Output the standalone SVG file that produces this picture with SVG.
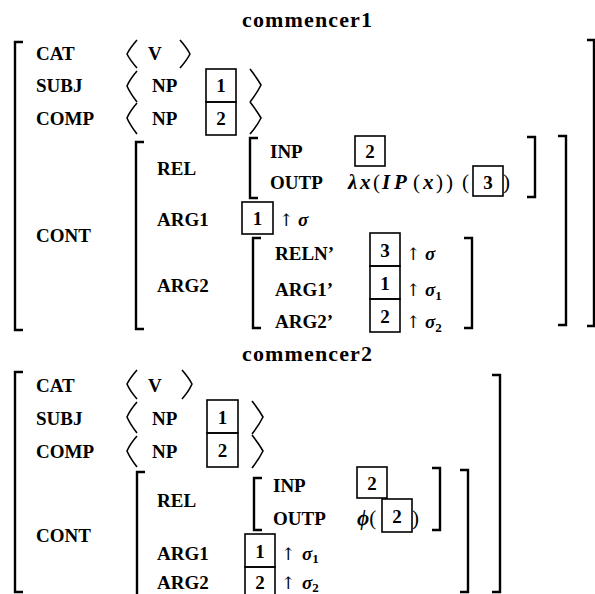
<svg xmlns="http://www.w3.org/2000/svg" width="595" height="594" viewBox="0 0 595 594">
<style>
text{font-family:"Liberation Serif","DejaVu Serif",serif;font-weight:bold;font-size:19px;fill:#000}
.t{font-size:22px}
.i{font-style:italic}
.u{font-style:normal;font-weight:normal}
.s{font-size:13px;font-style:normal}
.ar{font-family:"DejaVu Serif","Liberation Serif",serif;font-weight:normal;font-size:17px}
.d{text-anchor:middle}
.m{font-size:21px}
.br{fill:none;stroke:#000;stroke-width:2.4}
.ab{fill:none;stroke:#000;stroke-width:1.6;stroke-linejoin:round}
.bx{fill:none;stroke:#000;stroke-width:1.6}
</style>
<rect width="595" height="594" fill="#fff"/>
<g id="commencer1">
  <text class="t" x="242" y="27" textLength="130" lengthAdjust="spacing">commencer1</text>
  <g id="c1-brackets">
    <path class="br" d="M23,42 H15 V330 H23"/>
    <path class="br" d="M587,40 H594 V326 H587"/>
    <path class="br" d="M144,142 H136 V329 H144"/>
    <path class="br" d="M558,136 H566 V325 H558"/>
    <path class="br" d="M258,138 H250 V198 H258"/>
    <path class="br" d="M527,137 H535 V197 H527"/>
    <path class="br" d="M261,238 H253 V328 H261"/>
    <path class="br" d="M464,238 H472 V328 H464"/>
  </g>
  <g id="c1-cat">
    <text x="36" y="60">CAT</text>
    <path class="ab" d="M137,40 Q130,48 127,54 Q130,60 137,68"/>
    <text x="148" y="60">V</text>
    <path class="ab" d="M180,40 Q187,48 190,54 Q187,60 180,68"/>
  </g>
  <g id="c1-subj">
    <text x="36" y="92">SUBJ</text>
    <path class="ab" d="M137,71 Q130,79 127,86 Q130,93 137,102"/>
    <text x="152" y="92">NP</text>
    <rect class="bx" x="206" y="69" width="30" height="33"/>
    <text class="d" x="221" y="92">1</text>
    <path class="ab" d="M250,69 Q257,78 261,85 Q257,93 250,102"/>
  </g>
  <g id="c1-comp">
    <text x="36" y="125">COMP</text>
    <path class="ab" d="M137,103 Q130,111 127,118 Q130,125 137,134"/>
    <text x="152" y="125">NP</text>
    <rect class="bx" x="206" y="102" width="30" height="33"/>
    <text class="d" x="221" y="125">2</text>
    <path class="ab" d="M250,102 Q257,111 261,118 Q257,126 250,134"/>
  </g>
  <g id="c1-cont">
    <text x="36" y="242">CONT</text>
    <text x="157" y="175">REL</text>
    <text x="270" y="158">INP</text>
    <rect class="bx" x="355" y="136" width="30" height="30"/>
    <text class="d" x="370" y="158">2</text>
    <text x="270" y="189">OUTP</text>
    <text class="i m" y="189"><tspan x="348">λ</tspan><tspan x="360">x</tspan><tspan class="u" x="373">(</tspan><tspan x="382">I</tspan><tspan x="394">P</tspan><tspan class="u" x="413">(</tspan><tspan x="423">x</tspan><tspan class="u" x="436">)</tspan><tspan class="u" x="446">)</tspan><tspan class="u" x="462">(</tspan></text>
    <rect class="bx" x="473" y="166" width="30" height="30"/>
    <text class="d" x="488" y="189">3</text>
    <text class="m u" x="503" y="189">)</text>
    <text x="157" y="226">ARG1</text>
    <rect class="bx" x="242" y="202" width="31" height="32"/>
    <text class="d" x="257.5" y="225">1</text>
    <text class="ar" x="279" y="226">↑</text>
    <text class="i" x="298" y="226">σ</text>
    <text x="157" y="292">ARG2</text>
    <text x="275" y="260">RELN’</text>
    <rect class="bx" x="370" y="233" width="30" height="33"/>
    <text class="d" x="385" y="257">3</text>
    <text class="ar" x="406" y="260">↑</text>
    <text class="i" x="425" y="260">σ</text>
    <text x="275" y="296">ARG1’</text>
    <rect class="bx" x="370" y="266" width="30" height="33"/>
    <text class="d" x="385" y="290">1</text>
    <text class="ar" x="406" y="296">↑</text>
    <text class="i" x="425" y="296">σ<tspan class="s" dy="4">1</tspan></text>
    <text x="275" y="328">ARG2’</text>
    <rect class="bx" x="370" y="299" width="30" height="33"/>
    <text class="d" x="385" y="323">2</text>
    <text class="ar" x="406" y="328">↑</text>
    <text class="i" x="425" y="328">σ<tspan class="s" dy="4">2</tspan></text>
  </g>
</g>
<g id="commencer2">
  <text class="t" x="242" y="361" textLength="130" lengthAdjust="spacing">commencer2</text>
  <g id="c2-brackets">
    <path class="br" d="M23,372 H15 V592 H23"/>
    <path class="br" d="M492,375 H500 V592 H492"/>
    <path class="br" d="M145,472 H137 V596"/>
    <path class="br" d="M460,470 H468 V592 H460"/>
    <path class="br" d="M262,478 H254 V530 H262"/>
    <path class="br" d="M432,468 H440 V530 H432"/>
  </g>
  <g id="c2-cat">
    <text x="36" y="392">CAT</text>
    <path class="ab" d="M137,370 Q130,378 127,384 Q130,391 137,399"/>
    <text x="148" y="392">V</text>
    <path class="ab" d="M182,370 Q189,378 192,384 Q189,391 182,399"/>
  </g>
  <g id="c2-subj">
    <text x="36" y="425">SUBJ</text>
    <path class="ab" d="M137,402 Q130,410 127,417 Q130,424 137,433"/>
    <text x="152" y="425">NP</text>
    <rect class="bx" x="207" y="400" width="31" height="33"/>
    <text class="d" x="222.5" y="424">1</text>
    <path class="ab" d="M252,401 Q259,410 263,417 Q259,425 252,434"/>
  </g>
  <g id="c2-comp">
    <text x="36" y="458">COMP</text>
    <path class="ab" d="M137,436 Q130,444 127,451 Q130,458 137,467"/>
    <text x="152" y="458">NP</text>
    <rect class="bx" x="207" y="433" width="31" height="34"/>
    <text class="d" x="222.5" y="457">2</text>
    <path class="ab" d="M252,435 Q259,444 263,451 Q259,459 252,468"/>
  </g>
  <g id="c2-cont">
    <text x="36" y="542">CONT</text>
    <text x="157" y="507">REL</text>
    <text x="273" y="492">INP</text>
    <rect class="bx" x="357" y="467" width="30" height="31"/>
    <text class="d" x="372" y="490">2</text>
    <text x="273" y="525">OUTP</text>
    <text class="i m" x="357" y="525">ϕ<tspan class="u">(</tspan></text>
    <rect class="bx" x="382" y="499" width="30" height="33"/>
    <text class="d" x="397" y="523">2</text>
    <text class="m u" x="412" y="525">)</text>
    <text x="157" y="560">ARG1</text>
    <rect class="bx" x="245" y="534" width="30" height="33"/>
    <text class="d" x="260" y="558">1</text>
    <text class="ar" x="281" y="560">↑</text>
    <text class="i" x="302" y="560">σ<tspan class="s" dy="3">1</tspan></text>
    <text x="157" y="589">ARG2</text>
    <rect class="bx" x="245" y="567" width="30" height="34"/>
    <text class="d" x="260" y="589">2</text>
    <text class="ar" x="281" y="589">↑</text>
    <text class="i" x="302" y="589">σ<tspan class="s" dy="3">2</tspan></text>
  </g>
</g>
</svg>
